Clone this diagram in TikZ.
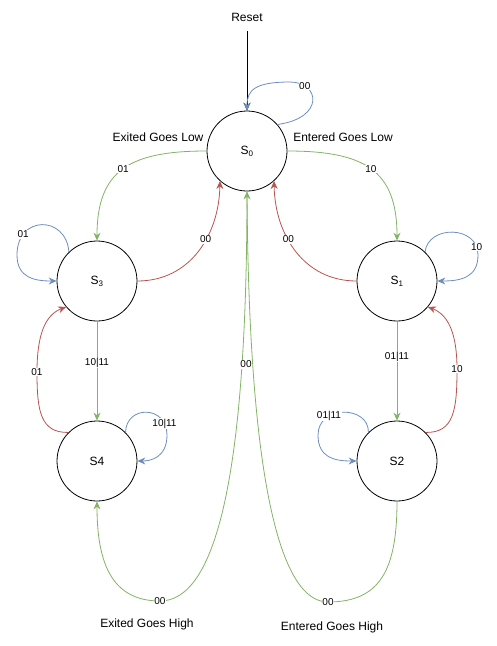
\documentclass[tikz,border=0pt]{standalone}
\usepackage{fontspec}
\setmainfont{Liberation Sans}
\usetikzlibrary{arrows.meta}
\definecolor{grn}{HTML}{82B366}
\definecolor{rd}{HTML}{B85450}
\definecolor{blu}{HTML}{6C8EBF}

\begin{document}
\begin{tikzpicture}[x=1pt, y=-1pt,
    state/.style={draw, circle, minimum size=80pt, inner sep=0pt, line width=0.8pt, font=\fontsize{12}{14}\selectfont},
    edge/.style={line width=0.8pt, -{Stealth[length=8pt,width=7pt]}},
    lbl/.style={fill=white, text=black, inner sep=0.6pt, font=\fontsize{10}{12}\selectfont},
    txt/.style={inner sep=1pt, font=\fontsize{12}{14}\selectfont}]
    \useasboundingbox (0,0) rectangle (497,646);
    % States
    \node[state] (S0) at (247,151) {S\textsubscript{0}};
    \node[state] (S3) at ( 97,281) {S\textsubscript{3}};
    \node[state] (S1) at (397,281) {S\textsubscript{1}};
    \node[state] (S4) at ( 97,461) {S4};
    \node[state] (S2) at (397,461) {S2};
    % Reset
    \node[txt] (reset) at (247,17) {Reset};
    \draw[edge, black, shorten <=9pt] (reset.south) -- (S0.north);
    % Loop on S0
    \draw[edge, blu] (S0.41) .. controls (325,118) and (320,82) .. (290,82) node[lbl, pos=0.8] {00}
        .. controls (255,82) and (247,90) .. (S0.north);
    % S0 to S3 and S1
    \draw[edge, grn] (S0.west) .. controls (130,151) and (97,170) .. (S3.north) node[lbl, pos=0.5] {01};
    \draw[edge, grn] (S0.east) .. controls (364,151) and (397,170) .. (S1.north) node[lbl, pos=0.5] {10};
    % S3 and S1 back to S0
    \draw[edge, rd] (S3.east) .. controls (190,281) and (219,235) .. (S0.228) node[lbl, pos=0.6] {00};
    \draw[edge, rd] (S1.west) .. controls (304,281) and (275,235) .. (S0.312) node[lbl, pos=0.6] {00};
    % Loops on S3 and S1
    \draw[edge, blu] (S3.134) .. controls (66,215) and (17,215) .. (17,255) node[lbl, pos=0.78] {01}
        .. controls (17,278) and (35,281) .. (S3.west);
    \draw[edge, blu] (S1.46) .. controls (428,225) and (478,225) .. (478,255) node[lbl, pos=0.9] {10}
        .. controls (478,278) and (460,281) .. (S1.east);
    % S3 to S4, S1 to S2
    \draw[edge, grn] (S3.south) -- (S4.north) node[lbl, pos=0.42] {10|11};
    \draw[edge, grn] (S1.south) -- (S2.north) node[lbl, pos=0.36] {01|11};
    % S4 to S3, S2 to S1
    \draw[edge, rd] (S4.135) .. controls (40,433) and (37,410) .. (37,372) node[lbl] {01}
        .. controls (37,335) and (45,315) .. (S3.220);
    \draw[edge, rd] (S2.45) .. controls (454,433) and (457,410) .. (457,369) node[lbl] {10}
        .. controls (457,335) and (449,315) .. (S1.320);
    % Loops on S4 and S2
    \draw[edge, blu] (S4.45) .. controls (126,405) and (167,405) .. (167,435) node[lbl, pos=0.85] {10|11}
        .. controls (167,458) and (150,461) .. (S4.east);
    \draw[edge, blu] (S2.135) .. controls (369,405) and (318,405) .. (318,435) node[lbl, pos=0.7] {01|11}
        .. controls (318,458) and (335,461) .. (S2.west);
    % S2 to S0, S0 to S4 (bottom)
    \draw[edge, grn] (S2.south) .. controls (397,570) and (380,602) .. (328,602) node[lbl] {00}
        .. controls (280,602) and (249,480) .. (S0.south);
    \draw[edge, grn] (S0.south) .. controls (247,480) and (215,601) .. (160,601) node[lbl, pos=0.23, xshift=4pt] {00} node[lbl] {00}
        .. controls (110,601) and (97,560) .. (S4.south);
    % Texts
    \node[txt] (exlow) at (158,137) {Exited Goes Low};
    \node[txt] (enlow) at (343,137) {Entered Goes Low};
    \node[txt] (exhigh) at (147,624) {Exited Goes High};
    \node[txt] (enhigh) at (332,627) {Entered Goes High};
\end{tikzpicture}
\end{document}
